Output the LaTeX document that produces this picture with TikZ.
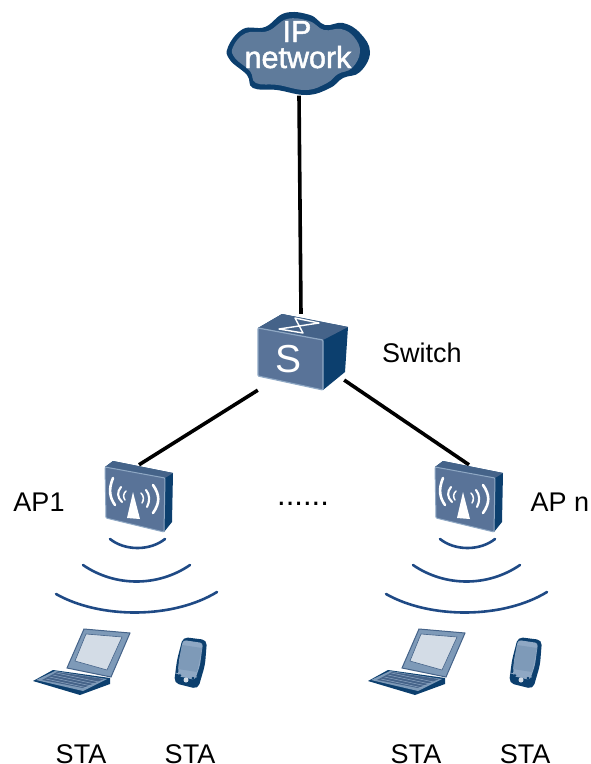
\documentclass[tikz,border=0pt]{standalone}
\usepackage{fontspec}
\setmainfont{Liberation Sans}
\newfontfamily\heavyfont[FakeBold=1.6]{Liberation Sans}
\definecolor{deep}{HTML}{0C3F6E}
\definecolor{face}{HTML}{597398}
\definecolor{topface}{HTML}{456389}
\definecolor{rim}{HTML}{8FA8C4}
\definecolor{cloudfill}{HTML}{5F7B9B}
\definecolor{wave}{HTML}{1F4A85}
\definecolor{paleblue}{HTML}{D3DCE6}
\definecolor{midblue}{HTML}{7E9AB8}
\tikzset{
  x=1pt,y=-1pt,
  link/.style={line width=3.6pt,black},
  hub/.style={rectangle,inner sep=0pt,draw=none},
  label/.style={anchor=base,font=\fontsize{27}{30}\selectfont,inner sep=0pt,text=black},
  wavearc/.style={line width=2.6pt,wave,line cap=round},
  glyph/.style={line width=2.1pt,white,line cap=round},
  apicon/.pic={
    \fill[deep] (105,467)--(113,461)--(173,473)--(172,522)--(164,532)--cycle;
    \fill[topface] (105,467)--(113,461)--(173,473)--(165,478)--cycle;
    \fill[face,draw=rim,line width=1pt,rounded corners=1pt] (105,467)--(165,478)--(164,532)--(106,518)--cycle;
    \fill[white] (133,492)--(127,518)--(140,519)--cycle;
    \draw[line width=2.6pt,white,line cap=round] (113,478) .. controls (108,490) and (110,498) .. (115,505);
    \draw[line width=2.6pt,white,line cap=round] (153,485) .. controls (160,495) and (160,503) .. (153,513);
    \draw[glyph] (121,487) .. controls (117,492) and (117,497) .. (122,502);
    \draw[glyph] (146,490) .. controls (150,495) and (150,501) .. (147,507);
    \draw[line width=1.5pt,white,line cap=round] (126,491) .. controls (123,494) and (123,497) .. (125,500);
    \draw[line width=1.5pt,white,line cap=round] (141,493) .. controls (144,496) and (144,500) .. (142,503);
  },
  wavesicon/.pic={
    \draw[wavearc] (110,539) .. controls (125,551) and (150,551) .. (165,539);
    \draw[wavearc] (83,565) .. controls (115,587) and (158,587) .. (190,565);
    \draw[wavearc] (56,594) .. controls (100,619) and (173,619) .. (217,592);
  },
  laptopicon/.pic={
    \fill[deep] (33,681)--(80,695)--(110,684)--(110,678)--(53,670)--cycle;
    \fill[midblue] (36,680)--(55,671)--(107,679)--(83,691)--cycle;
    \fill[topface] (42,680)--(57,672)--(104,679)--(83,688)--cycle;
    \foreach \k in {0,1,2,3}{\draw[rim,line width=.5pt] ({46+\k*3.5},{679-\k*2}) -- ({88+\k*3.5},{688-\k*2});}
    \fill[midblue,draw=topface,line width=1pt] (84,629)--(130,633)--(111,677)--(67,668)--cycle;
    \fill[paleblue,draw=topface,line width=.6pt] (86,634)--(122,637)--(107,670)--(75,661)--cycle;
  },
  phoneicon/.pic={
    \fill[deep,rounded corners=5pt] (183,637)--(207,640)--(205,665)--(198,689)--(174,683)--(177,660)--cycle;
    \fill[rim,rounded corners=3pt] (183,640)--(203,643)--(200,665)--(195,680)--(178,676)--(179,660)--cycle;
    \fill[midblue] (182,645)--(202,648)--(197,672)--(178,669)--cycle;
    \fill[deep] (180,675) circle[radius=1.5] (193,678) circle[radius=1.5];
    \fill[paleblue] (186,680) circle[radius=2.5];
    \draw[rim,line width=.8pt] (175,673)--(197,677);
  }
}
\begin{document}
\begin{tikzpicture}
\useasboundingbox (0,0) rectangle (591,764);
% anchor nodes for connections
\node[hub,minimum width=142pt,minimum height=83pt] (cloud) at (299,54) {};
\node[hub,minimum width=86pt,minimum height=76pt] (switch) at (301,352) {};
\node[hub,minimum width=68pt,minimum height=67pt] (ap1) at (139,498.5) {};
\node[hub,minimum width=68pt,minimum height=67pt] (apn) at (469,498.5) {};
% connectors
\draw[link] (cloud.south) -- (switch.north);
\draw[link] (switch.south west) -- (ap1.north);
\draw[link] (switch.-33) -- (apn.north);
% cloud
\fill[deep] plot[smooth cycle,tension=.7] coordinates{(228,47)(243,29)(265,27)(285,13)(310,15)(325,25)(343,23)(360,33)(370,52)(360,72)(343,78)(330,88)(307,95)(277,90)(253,88)(247,75)(230,60)};
\fill[cloudfill] plot[smooth cycle,tension=.7] coordinates{(233,47)(246,33)(268,31)(287,19)(309,21)(324,30)(341,29)(354,37)(360,52)(352,68)(338,74)(327,83)(306,90)(278,85)(256,83)(250,71)(235,58)};
\node[anchor=base,inner sep=0pt,text=white,font=\heavyfont\fontsize{30.5}{32}\selectfont] (iptext) at (297,42) {IP};
\node[anchor=base,inner sep=0pt,text=white,font=\heavyfont\fontsize{30.5}{32}\selectfont] (nettext) at (298,68) {network};
% switch
\fill[deep] (258,328)--(282,314)--(348,327)--(345,372)--(323,390)--cycle;
\fill[topface] (258,328)--(282,314)--(348,327)--(323,340)--cycle;
\fill[face,draw=rim,line width=1.2pt,rounded corners=1pt] (258,328)--(323,340)--(323,390)--(258,376)--cycle;
\draw[line width=1.4pt,white,line join=round] (295,318)--(319,323)--(279,329)--(303,333)--cycle;
\node[anchor=base,inner sep=0pt,text=white,font=\fontsize{39}{40}\selectfont] (stext) at (289,372) {S};
% access points, waves, stations
\pic at (0,0) {apicon};
\pic at (330,0) {apicon};
\pic at (0,0) {wavesicon};
\pic at (330,0) {wavesicon};
\pic at (0,0) {laptopicon};
\pic at (335,0) {laptopicon};
\pic at (0,0) {phoneicon};
\pic at (335,0) {phoneicon};
% labels
\node[label] (swlabel) at (422,362) {Switch};
\node[label] (aplabel) at (39,511) {AP1};
\node[label] (apnlabel) at (560,511) {AP n};
\node[anchor=base,inner sep=0pt,font=\fontsize{31}{32}\selectfont] (dots) at (303,505) {......};
\node[label] (sta1) at (81,763) {STA};
\node[label] (sta2) at (190,763) {STA};
\node[label] (sta3) at (416,763) {STA};
\node[label] (sta4) at (525,763) {STA};
\end{tikzpicture}
\end{document}
